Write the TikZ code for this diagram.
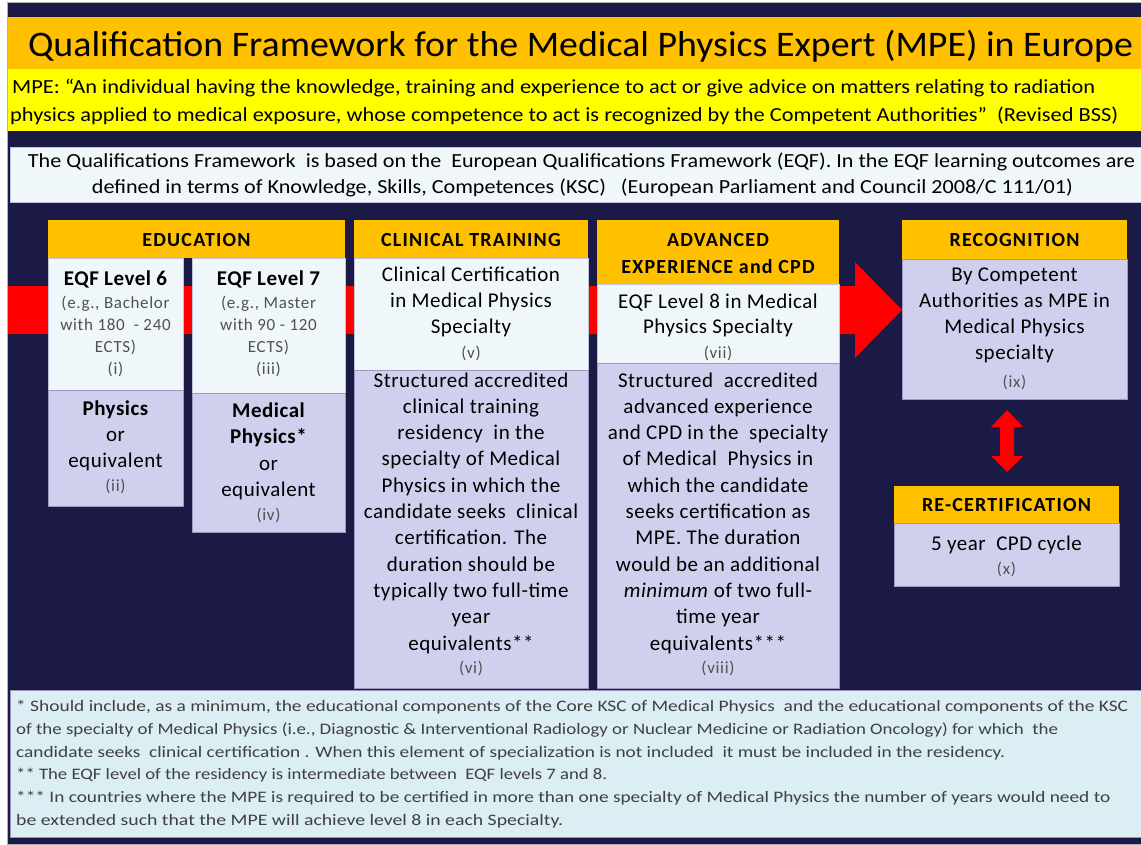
\documentclass[tikz,border=0pt]{standalone}
\usepackage{fontspec}
\setmainfont{Carlito}
\usepackage{graphicx}
\definecolor{navy}{HTML}{1B1A47}
\definecolor{orng}{HTML}{FFC000}
\definecolor{yel}{HTML}{FFFF00}
\definecolor{lite}{HTML}{F0F7FA}
\definecolor{lav}{HTML}{D0D0EE}
\definecolor{foot}{HTML}{DAEEF3}
\definecolor{subgray}{HTML}{505050}
\definecolor{footgray}{HTML}{404040}
\definecolor{edge}{HTML}{9A9AC0}
\newcommand{\panel}[6]{\node[#6, minimum width={#4-#2}, minimum height={#5-#3}, anchor=north west] (#1) at (#2,#3) {};}
\newcommand{\tlines}[6]{\foreach \t [count=\i from 0] in {#6} {\node[#5, anchor=base] (#1-\i) at (#2, {#3+\i*#4}) {\t};}}
\tikzset{
  pnl/.style={inner sep=0pt, outer sep=0pt},
  hdr/.style={pnl, fill=orng},
  litebox/.style={pnl, fill=lite, draw=edge!60, line width=0.6pt},
  lavbox/.style={pnl, fill=lav, draw=edge, line width=0.6pt},
  txt/.style={inner sep=0pt, text=black},
  hdrtxt/.style={txt, font=\bfseries\fontsize{20}{22}\selectfont\addfontfeature{LetterSpace=6}},
  bigbold/.style={txt, font=\bfseries\fontsize{21}{25}\selectfont\addfontfeature{LetterSpace=2.5}},
  body/.style={txt, font=\fontsize{21}{25}\selectfont\addfontfeature{LetterSpace=2.5}},
  sub/.style={txt, text=subgray, font=\fontsize{17}{19}\selectfont\addfontfeature{LetterSpace=4}},
  foottxt/.style={inner sep=0pt, text=footgray, font=\fontsize{16}{19}\selectfont, anchor=base west},
}
\begin{document}
\begin{tikzpicture}[x=1pt,y=-1pt]
\useasboundingbox (0,0) rectangle (1141,844);
\fill[white] (0,0) rectangle (1141,844);
\panel{bg}{7}{2}{1141}{844}{pnl, fill=navy, draw=gray!60, line width=0.8pt}
% top bands
\panel{titleband}{8}{17}{1141}{69}{pnl, fill=orng}
\panel{defband}{8}{69}{1141}{131}{pnl, fill=yel}
\panel{eqfband}{10}{147}{1141}{202}{litebox}
\node[txt, anchor=base, font=\fontsize{36}{40}\selectfont] (title) at (580.5,56)
  {\resizebox{1105pt}{\height}{Qualification Framework for the Medical Physics Expert (MPE) in Europe}};
\node[txt, anchor=base west, font=\fontsize{20}{24}\selectfont] (def1) at (12,93)
  {\resizebox{1083pt}{\height}{MPE: “An individual having the knowledge, training and experience to act or give advice on matters relating to radiation}};
\node[txt, anchor=base west, font=\fontsize{20}{24}\selectfont] (def2) at (10,121)
  {\resizebox{1108pt}{\height}{physics applied to medical exposure, whose competence to act is recognized by the Competent Authorities”\ \ (Revised BSS)}};
\node[txt, anchor=base, font=\fontsize{20}{24}\selectfont] (eqf1) at (581.5,167)
  {\resizebox{1107pt}{\height}{The Qualifications Framework\ \ is based on the\ \ European Qualifications Framework (EQF). In the EQF learning outcomes are}};
\node[txt, anchor=base, font=\fontsize{20}{24}\selectfont] (eqf2) at (582.5,193)
  {\resizebox{981pt}{\height}{defined in terms of Knowledge, Skills, Competences (KSC)\ \ \ (European Parliament and Council 2008/C 111/01)}};
% red main arrow
\fill[red] (8,286) -- (855,286) -- (855,262) -- (902,310) -- (855,358) -- (855,334) -- (8,334) -- cycle;
% education
\panel{eduh}{48}{220}{345}{258}{hdr}
\panel{l6a}{48}{258}{183}{390}{litebox}
\panel{l6b}{48}{390}{183}{506}{lavbox}
\panel{l7a}{192}{258}{345}{393}{litebox}
\panel{l7b}{192}{393}{345}{532}{lavbox}
\node[hdrtxt, anchor=base] (edut) at (196.5,246) {EDUCATION};
\node[bigbold, anchor=base] (l6t) at (115.5,285) {EQF Level 6};
\tlines{l6s}{115.5}{308}{22.3}{sub}{{(e.g., Bachelor}, with 180\ \ - 240, ECTS), (i)}
\node[bigbold, anchor=base] (l6p) at (115.5,415) {Physics};
\tlines{l6o}{115.5}{441}{26}{body}{or, equivalent}
\node[sub, anchor=base] (l6r) at (115.5,491) {(ii)};
\node[bigbold, anchor=base] (l7t) at (268.5,285) {EQF Level 7};
\tlines{l7s}{268.5}{308}{22.3}{sub}{{(e.g., Master}, with 90 - 120, ECTS), (iii)}
\tlines{l7p}{268.5}{417}{26.5}{bigbold}{Medical, Physics*}
\tlines{l7o}{268.5}{470}{26}{body}{or, equivalent}
\node[sub, anchor=base] (l7r) at (268.5,520) {(iv)};
% clinical training
\panel{cth}{354}{220}{588}{258}{hdr}
\panel{cta}{354}{258}{588}{370}{litebox}
\panel{ctb}{354}{370}{588}{688}{lavbox}
\node[hdrtxt, anchor=base] (ctt) at (471,246) {CLINICAL TRAINING};
\tlines{cts}{471}{281}{26}{body}{Clinical Certification, in Medical Physics, Specialty}
\node[sub, anchor=base] (ctv) at (471,358) {(v)};
\tlines{ctl}{471}{387}{26.3}{body}{Structured accredited, clinical training, residency\ \ in the, specialty of Medical, Physics in which the, candidate seeks\ \ clinical, certification. The, duration should be, typically two full-time, year, equivalents**}
\node[sub, anchor=base] (ctvi) at (471,673) {(vi)};
% advanced
\panel{adh}{597}{220}{839}{284}{hdr}
\panel{ada}{597}{284}{839}{363}{litebox}
\panel{adb}{597}{363}{839}{688}{lavbox}
\tlines{adt}{718}{246}{27}{hdrtxt}{ADVANCED, EXPERIENCE and CPD}
\tlines{ads}{718}{308}{25}{body}{EQF Level 8 in Medical, Physics Specialty}
\node[sub, anchor=base] (advii) at (718,358) {(vii)};
\tlines{adl}{718}{387}{26.3}{body}{Structured\ \ accredited, advanced experience, and CPD in the\ \ specialty, of Medical\ \ Physics in, which the candidate, seeks certification as, MPE. The duration, would be an additional, \textit{minimum} of two full-, time year, equivalents***}
\node[sub, anchor=base] (adviii) at (718,673) {(viii)};
% recognition
\panel{rech}{902}{220}{1127}{259}{hdr}
\panel{recb}{902}{259}{1127}{399}{lavbox}
\node[hdrtxt, anchor=base] (rect) at (1014.5,246) {RECOGNITION};
\tlines{recl}{1014.5}{281}{26}{body}{By Competent, Authorities as MPE in, Medical Physics, specialty}
\node[sub, anchor=base] (recix) at (1014.5,387) {(ix)};
% re-certification
\panel{rch}{894}{486}{1119}{523}{hdr}
\panel{rcb}{894}{523}{1119}{586}{lavbox}
\node[hdrtxt, anchor=base] (rct) at (1006.5,511) {RE-CERTIFICATION};
\node[body, anchor=base] (rcl) at (1006.5,550) {5 year\ \ CPD cycle};
\node[sub, anchor=base] (rcx) at (1006.5,574) {(x)};
% double arrow
\fill[red] (1007,410) -- (1023,427) -- (1014,427) -- (1014,456) -- (1023,456) -- (1007,472)
  -- (991,456) -- (1000,456) -- (1000,427) -- (991,427) -- cycle;
% footnotes
\panel{fn}{10}{690}{1141}{837}{pnl, fill=foot, draw=edge!80!gray, line width=0.8pt}
\node[foottxt] (fn1) at (16,711) {\resizebox{1112pt}{\height}{* Should include, as a minimum, the educational components of the Core KSC of Medical Physics\ \ and the educational components of the KSC}};
\node[foottxt] (fn2) at (16,734) {\resizebox{1042pt}{\height}{of the specialty of Medical Physics (i.e., Diagnostic \& Interventional Radiology or Nuclear Medicine or Radiation Oncology) for which\ \ the}};
\node[foottxt] (fn3) at (16,757) {\resizebox{989pt}{\height}{candidate seeks\ \ clinical certification . When this element of specialization is not included\ \ it must be included in the residency.}};
\node[foottxt] (fn4) at (16,779) {\resizebox{591pt}{\height}{** The EQF level of the residency is intermediate between\ \ EQF levels 7 and 8.}};
\node[foottxt] (fn5) at (16,802) {\resizebox{1094pt}{\height}{*** In countries where the MPE is required to be certified in more than one specialty of Medical Physics the number of years would need to}};
\node[foottxt] (fn6) at (16,825) {\resizebox{547pt}{\height}{be extended such that the MPE will achieve level 8 in each Specialty.}};
\end{tikzpicture}
\end{document}
